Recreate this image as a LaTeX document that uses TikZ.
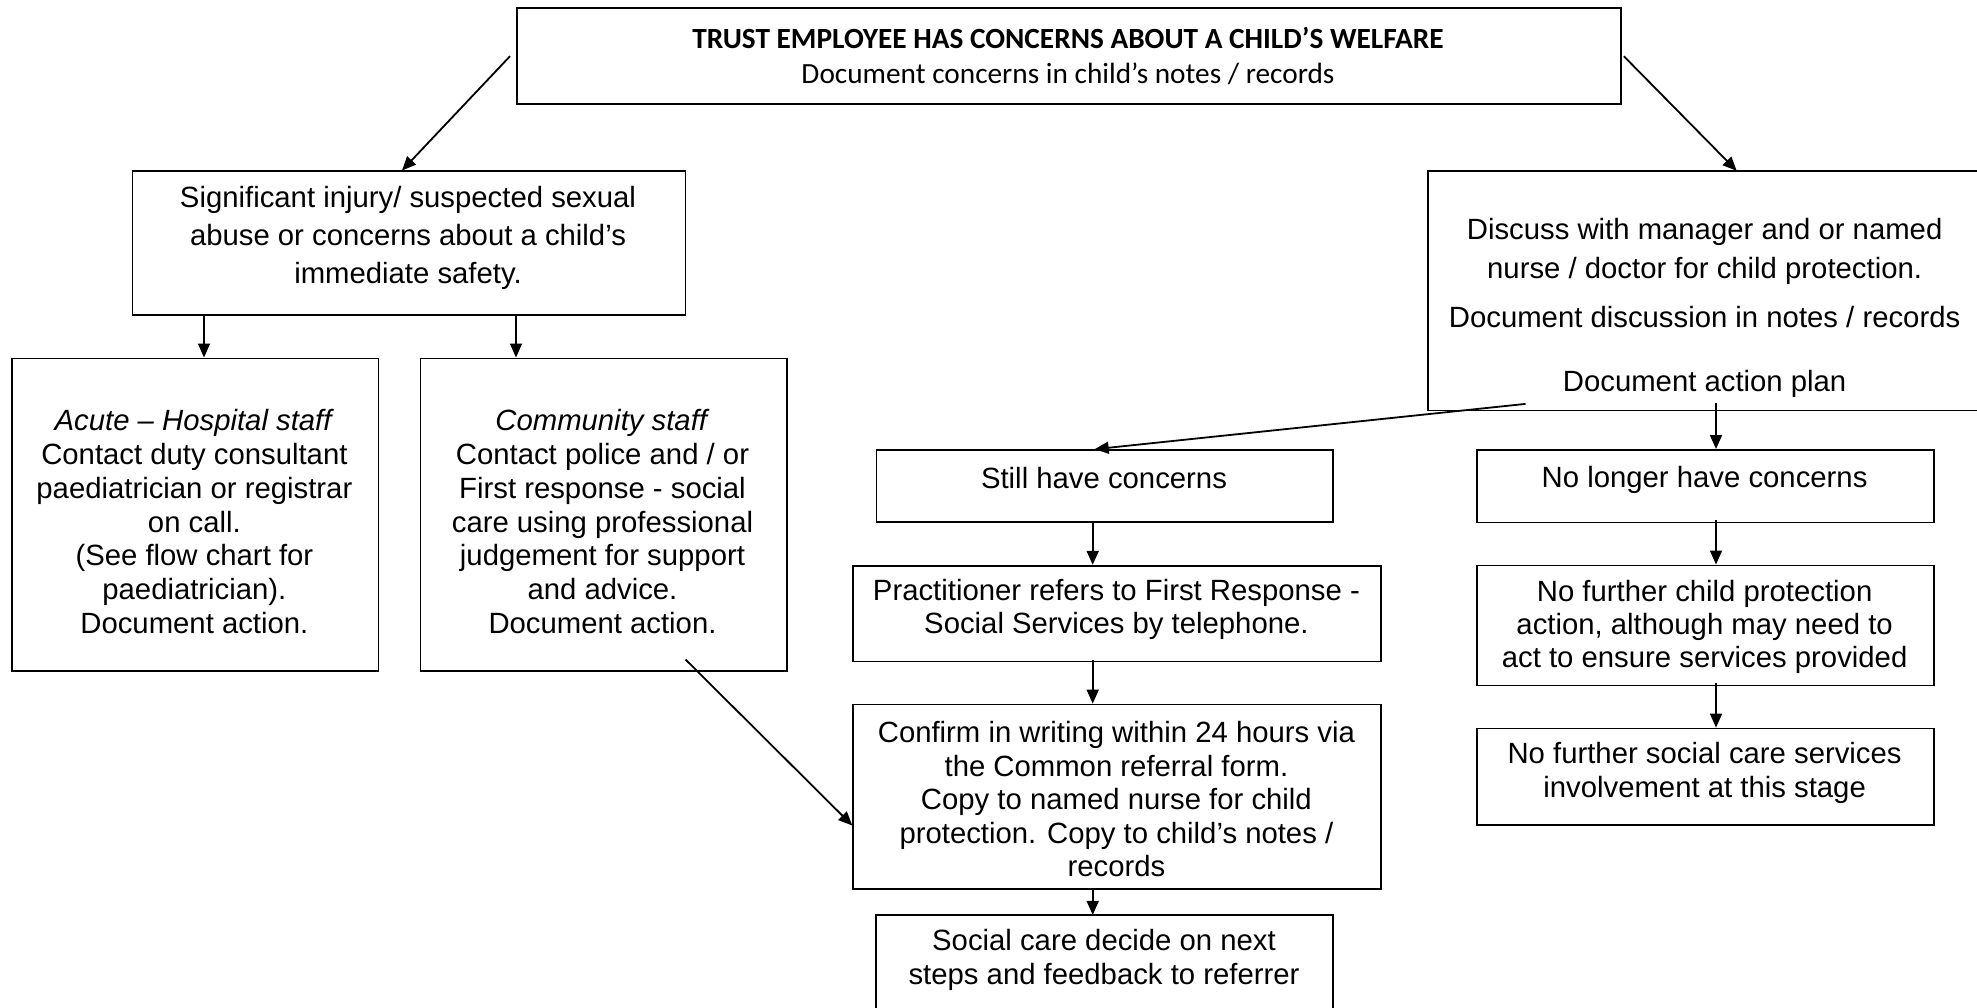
\documentclass[tikz,border=0pt]{standalone}
\usepackage{fontspec}
\setmainfont{Liberation Sans}
\newfontfamily\calibrifont{Carlito}
\usetikzlibrary{arrows.meta,calc}
\begin{document}
\begin{tikzpicture}[x=1pt,y=-1pt,
  box/.style={draw, line width=1.8pt, inner sep=0pt, anchor=north west, rectangle},
  openbox/.style={inner sep=0pt, anchor=north west, rectangle},
  txt/.style={inner sep=0pt, align=center, font=\fontsize{29.3}{33.7}\selectfont},
  arr/.style={line width=1.8pt, -{Triangle[length=14pt,width=12pt]}}]
\useasboundingbox (0,0) rectangle (1977,1008);
\fill[white] (0,0) rectangle (1977,1008);
\begin{scope}
\clip (0,0) rectangle (1977,1008);
% boxes
\node[box, minimum width=1104pt, minimum height=96pt] (top) at (516,7.3) {};
\node[box, minimum width=553pt, minimum height=143.8pt] (sig) at (131.6,170.5) {};
\node[box, minimum width=366.4pt, minimum height=312.9pt] (acute) at (11.2,357.5) {};
\node[box, minimum width=366.1pt, minimum height=312.9pt] (comm) at (419.6,357.5) {};
\node[openbox, minimum width=560pt, minimum height=239.2pt] (disc) at (1427.9,170.8) {};
\node[box, minimum width=456.8pt, minimum height=71.8pt] (still) at (875.6,449.2) {};
\node[box, minimum width=528.1pt, minimum height=95.8pt] (pract) at (852.3,564.8) {};
\node[box, minimum width=528.1pt, minimum height=184.2pt] (confirm) at (852.3,703.6) {};
\node[openbox, minimum width=456.8pt, minimum height=100pt] (social) at (875.6,914.9) {};
\node[box, minimum width=457pt, minimum height=72.5pt] (nolonger) at (1476.1,449) {};
\node[box, minimum width=457pt, minimum height=120.1pt] (nfchild) at (1476.1,564.5) {};
\node[box, minimum width=457pt, minimum height=96.4pt] (nfsocial) at (1476.1,727.6) {};
% boxes that run off the page: only their visible sides
\draw[line width=1.8pt] (disc.north east) -- (disc.north west) -- (disc.south west) -- (disc.south east);
\draw[line width=1.8pt] (social.south west) -- (social.north west) -- (social.north east) -- (social.south east);
% texts
\node[txt, font=\calibrifont\bfseries\fontsize{29.3}{36}\selectfont] (topt1) at (1068,37.5) {TRUST EMPLOYEE HAS CONCERNS ABOUT A CHILD’S WELFARE};
\node[txt, font=\calibrifont\fontsize{29.3}{36}\selectfont] (topt2) at (1068,73.3) {Document concerns in child’s notes / records};
\node[txt, font=\fontsize{29.3}{38.3}\selectfont] (sigt) at (408,237.8) {Significant injury/ suspected sexual\\abuse or concerns about a child’s\\immediate safety.};
\node[txt, font=\fontsize{29.3}{33.8}\selectfont] (acutet) at (194.4,521.7) {\textit{Acute – Hospital staff}\\Contact duty consultant\\paediatrician or registrar\\on call.\\(See flow chart for\\paediatrician).\\Document action.};
\node[txt, font=\fontsize{29.3}{33.8}\selectfont] (commt) at (602.5,521.7) {\textit{Community staff}\\Contact police and / or\\First response - social\\care using professional\\judgement for support\\and advice.\\Document action.};
\node[txt, font=\fontsize{29.3}{39.4}\selectfont] (disct1) at (1704.6,251.5) {Discuss with manager and or named\\nurse / doctor for child protection.};
\node[txt] (disct2) at (1704.6,316.8) {Document discussion in notes / records};
\node[txt] (disct3) at (1704.6,383.5) {Document action plan};
\node[txt] (stillt) at (1104,477.6) {Still have concerns};
\node[txt, font=\fontsize{29.3}{33.3}\selectfont] (practt) at (1116.4,609.4) {Practitioner refers to First Response -\\Social Services by telephone.};
\node[txt, font=\fontsize{29.3}{33.5}\selectfont] (confirmt) at (1116.4,799.4) {Confirm in writing within 24 hours via\\the Common referral form.\\Copy to named nurse for child\\protection. Copy to child’s notes /\\records};
\node[txt, font=\fontsize{29.3}{33.8}\selectfont] (socialt) at (1104,959.7) {Social care decide on next\\steps and feedback to referrer};
\node[txt] (nolongert) at (1704.6,479.6) {No longer have concerns};
\node[txt, font=\fontsize{29.3}{33}\selectfont] (nfchildt) at (1704.6,626.6) {No further child protection\\action, although may need to\\act to ensure services provided};
\node[txt, font=\fontsize{29.3}{33.3}\selectfont] (nfsocialt) at (1704.6,773) {No further social care services\\involvement at this stage};
% connector end points
\coordinate (c1s) at ($(top.west)+(-6,0)$);
\coordinate (c1e) at ($(sig.north west)+(270.4,0)$);
\coordinate (c2s) at ($(top.east)+(2,0)$);
\coordinate (c2e) at ($(disc.north west)+(308.8,0)$);
\coordinate (c3s) at ($(sig.south west)+(72.4,0)$);
\coordinate (c4s) at ($(sig.south west)+(384.4,0)$);
\coordinate (c5s) at ($(comm.south east)+(-102,-12.7)$);
\coordinate (c5e) at ($(confirm.west)+(0,28.9)$);
\coordinate (c6s) at ($(disc.south west)+(97.6,-6.5)$);
\coordinate (c6e) at ($(still.north west)+(219.1,0)$);
\coordinate (c7s) at ($(disc.south west)+(288.1,-7.7)$);
\coordinate (c8s) at ($(still.south west)+(217.1,0)$);
\coordinate (c9s) at ($(pract.south west)+(240.4,-2.7)$);
\coordinate (c10s) at ($(confirm.south west)+(240.4,0)$);
\coordinate (c11s) at ($(nolonger.south west)+(239.9,-3)$);
\coordinate (c12s) at ($(nfchild.south west)+(239.9,-3.7)$);
% connectors
\draw[arr] (c1s) -- (c1e);
\draw[arr] (c2s) -- (c2e);
\draw[arr] (c3s) -- (c3s |- acute.north);
\draw[arr] (c4s) -- (c4s |- comm.north);
\draw[arr] (c5s) -- (c5e);
\draw[arr] (c6s) -- (c6e);
\draw[arr] (c7s) -- (c7s |- nolonger.north);
\draw[arr] (c8s) -- (c8s |- pract.north);
\draw[arr] (c9s) -- (c9s |- confirm.north);
\draw[arr] (c10s) -- (c10s |- social.north);
\draw[arr] (c11s) -- (c11s |- nfchild.north);
\draw[arr] (c12s) -- (c12s |- nfsocial.north);
\end{scope}
\end{tikzpicture}
\end{document}
